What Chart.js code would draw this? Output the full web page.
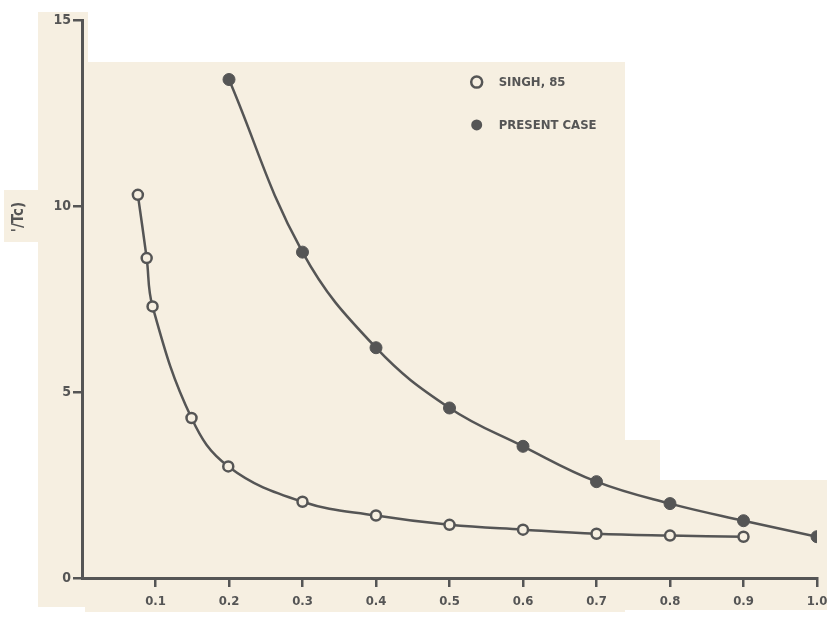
<!DOCTYPE html>
<html>
<head>
<meta charset="utf-8">
<script src="https://cdn.jsdelivr.net/npm/chart.js@4.4.0/dist/chart.umd.min.js"></script>
<style>
  html, body { margin: 0; padding: 0; background: #ffffff; }
  #wrap { width: 827px; height: 617px; }
</style>
</head>
<body>
<div id="wrap"><canvas id="grafico" width="827" height="617"></canvas></div>
<script>
// valores
var singhX = [0.076, 0.088, 0.096, 0.149, 0.199, 0.30, 0.40, 0.50, 0.60, 0.70, 0.80, 0.90];
var singhY = [10.3, 8.6, 7.3, 4.3, 3.0, 2.05, 1.68, 1.43, 1.30, 1.19, 1.14, 1.11];
var presenteX = [0.2, 0.3, 0.4, 0.5, 0.6, 0.7, 0.8, 0.9, 1.0];
var presenteY = [13.4, 8.76, 6.19, 4.57, 3.54, 2.59, 2.0, 1.54, 1.11];
var ticksX = [0.1, 0.2, 0.3, 0.4, 0.5, 0.6, 0.7, 0.8, 0.9, 1.0];
var ticksY = [0, 5, 10, 15];
var legenda = ["SINGH, 85", "PRESENT CASE"];
var tituloY = "'/Tc)";

var tinta = "#555555";
var creme = "#f6efe1";
var fonte = "'DejaVu Sans Condensed', 'DejaVu Sans', sans-serif";

function pontos(xs, ys) {
  var r = [];
  for (var i = 0; i < xs.length; i++) { r.push({x: xs[i], y: ys[i]}); }
  return r;
}

// fundo de papel recortado
var fundo = {
  id: 'fundo',
  beforeDraw: function(chart) {
    var c = chart.ctx;
    c.save();
    c.fillStyle = creme;
    c.fillRect(38, 12, 50, 595);
    c.fillRect(4, 190, 50, 52);
    c.fillRect(85, 62, 540, 550);
    c.fillRect(625, 480, 202, 130);
    c.fillRect(600, 440, 60, 60);
    c.restore();
  }
};

// legenda e titulo do eixo y
var legendaPlugin = {
  id: 'legendaPlugin',
  afterDatasetsDraw: function(chart) {
    var c = chart.ctx;
    var sx = chart.scales.x, sy = chart.scales.y;
    var x0 = sx.getPixelForValue(0.537);
    var ys = [sy.getPixelForValue(13.33), sy.getPixelForValue(12.18)];
    c.save();
    c.lineWidth = 2.5;
    c.strokeStyle = tinta;
    c.font = "bold 13px " + fonte;
    c.textBaseline = "middle";
    for (var i = 0; i < 2; i++) {
      c.beginPath();
      c.arc(x0, ys[i], 5.5, 0, Math.PI * 2);
      if (i == 0) { c.fillStyle = creme; c.fill(); c.stroke(); }
      else { c.fillStyle = tinta; c.fill(); }
      c.fillStyle = tinta;
      c.fillText(legenda[i], x0 + 22, ys[i] + 1);
    }
    c.translate(19, 217);
    c.rotate(-Math.PI / 2);
    c.textAlign = "center";
    c.font = "bold 15px " + fonte;
    c.fillText(tituloY, 0, 0);
    c.restore();
  }
};

new Chart(document.getElementById("grafico"), {
  type: 'line',
  data: {
    datasets: [{
      label: legenda[0],
      data: pontos(singhX, singhY),
      borderColor: tinta,
      borderWidth: 2.5,
      pointRadius: 5,
      pointBorderWidth: 2.5,
      pointBackgroundColor: creme,
      pointBorderColor: tinta,
      tension: 0.4,
      fill: false
    }, {
      label: legenda[1],
      data: pontos(presenteX, presenteY),
      borderColor: tinta,
      borderWidth: 2.5,
      pointRadius: 6,
      pointBorderWidth: 1,
      pointBackgroundColor: tinta,
      pointBorderColor: tinta,
      tension: 0.4,
      fill: false
    }]
  },
  options: {
    responsive: false,
    animation: false,
    layout: { padding: { top: 20, right: 10, left: 0, bottom: 0 } },
    plugins: {
      legend: { display: false },
      tooltip: { enabled: false }
    },
    scales: {
      x: {
        type: 'linear',
        min: 0,
        max: 1.0,
        afterBuildTicks: function(s) { s.ticks = ticksX.map(function(v) { return {value: v}; }); },
        afterFit: function(s) { s.height = 39; s.paddingRight = 0; s.paddingLeft = 0; },
        border: { color: tinta, width: 3 },
        grid: { drawOnChartArea: false, drawTicks: true, tickLength: 9, color: tinta, lineWidth: 2.5 },
        ticks: {
          color: tinta,
          font: { family: fonte, size: 13, weight: 'bold' },
          padding: 7,
          maxRotation: 0,
          callback: function(v) { return v.toFixed(1); }
        }
      },
      y: {
        type: 'linear',
        min: 0,
        max: 15,
        afterBuildTicks: function(s) { s.ticks = ticksY.map(function(v) { return {value: v}; }); },
        afterFit: function(s) { s.width = 82; s.paddingTop = 0; s.paddingBottom = 0; },
        border: { color: tinta, width: 3 },
        grid: { drawOnChartArea: false, drawTicks: true, tickLength: 9, color: tinta, lineWidth: 2.5 },
        ticks: {
          color: tinta,
          font: { family: fonte, size: 14, weight: 'bold' },
          padding: 2
        }
      }
    }
  },
  plugins: [fundo, legendaPlugin]
});
</script>
</body>
</html>
